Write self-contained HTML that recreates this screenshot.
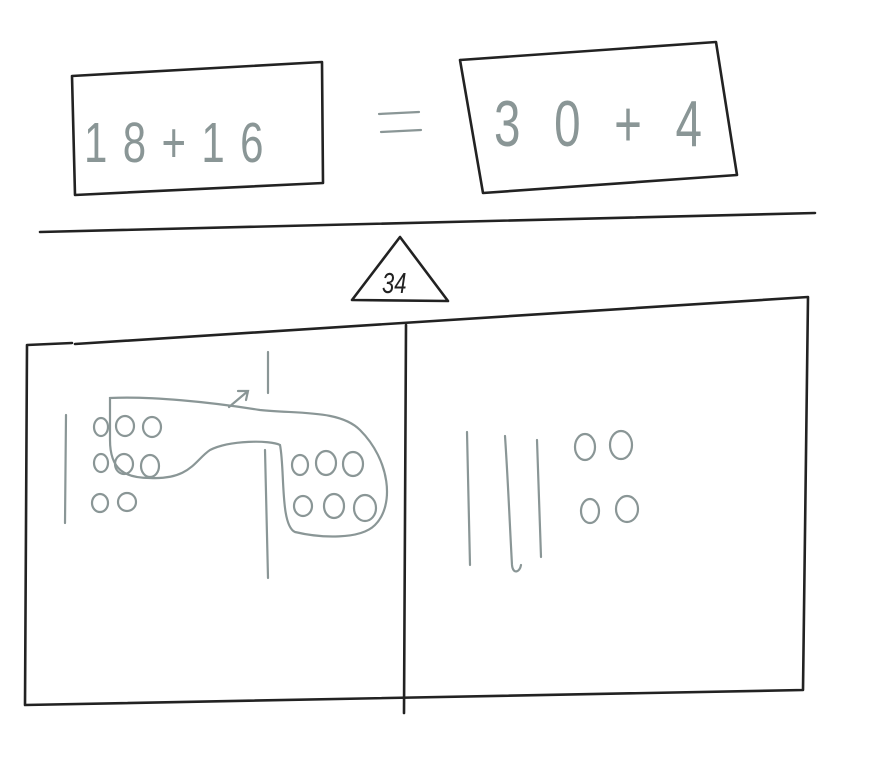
<!DOCTYPE html>
<html><head><meta charset="utf-8"><style>html,body{margin:0;padding:0;background:#fff;width:874px;height:766px;overflow:hidden}</style></head>
<body>
<svg width="874" height="766" viewBox="0 0 874 766" xmlns="http://www.w3.org/2000/svg">
<g fill="none" stroke="#222" stroke-width="2.6" stroke-linecap="round" stroke-linejoin="round">
<path d="M72,76 L322,62 L323,183 L75,195 L72,76"/>
<path d="M460,60 L716,42 L737,175 L483,193 L460,60"/>
<path d="M40,232 L815,213"/>
<path d="M400,237 L352,300 L448,301 Z"/>
<path d="M27,345 L72,343 M75,344 L808,297 L803,690 L25,705 L27,345"/>
<path d="M406,325 L404,713"/>
</g>
<g fill="none" stroke="#8a9696" stroke-width="2.2" stroke-linecap="round">
<path d="M379,114 L419,112 M381,132 L421,130"/>
<path d="M66,415 L65,523"/>
<path d="M268,352 L268,393"/>
<path d="M229,407 L248,391 M238,391 L248,391 L246,400"/>
<path d="M265,450 L268,578"/>
<path d="M110,398 C150,396 210,402 260,410 C300,414 340,410 360,430 C390,460 395,505 375,525 C360,540 320,538 295,532 C280,525 285,470 280,445 C270,440 230,440 210,450 C195,460 190,480 150,478 C125,478 110,470 110,440 Z"/>
<ellipse cx="101" cy="427" rx="7" ry="9"/><ellipse cx="125" cy="426" rx="9" ry="10"/><ellipse cx="152" cy="427" rx="9" ry="10"/>
<ellipse cx="101" cy="463" rx="7" ry="9"/><ellipse cx="124" cy="464" rx="9" ry="10"/><ellipse cx="150" cy="466" rx="9" ry="11"/>
<ellipse cx="100" cy="503" rx="8" ry="9"/><ellipse cx="127" cy="502" rx="9" ry="9"/>
<ellipse cx="300" cy="465" rx="8" ry="10"/><ellipse cx="326" cy="463" rx="10" ry="12"/><ellipse cx="353" cy="464" rx="10" ry="12"/>
<ellipse cx="303" cy="506" rx="9" ry="10"/><ellipse cx="334" cy="506" rx="10" ry="12"/><ellipse cx="365" cy="508" rx="11" ry="13"/>
<path d="M467,432 L470,565"/>
<path d="M505,436 C508,480 510,530 512,565 C513,575 520,572 521,565"/>
<path d="M537,440 L541,557"/>
<ellipse cx="585" cy="447" rx="10" ry="13"/><ellipse cx="621" cy="445" rx="11" ry="14"/>
<ellipse cx="590" cy="511" rx="9" ry="12"/><ellipse cx="627" cy="509" rx="11" ry="13"/>
</g>
<g fill="#8a9696" font-family="Liberation Sans, sans-serif">
<text transform="translate(84,162) scale(1.4,1.9)" font-size="30" letter-spacing="11">18+16</text>
<text transform="translate(494,146) scale(1.4,1.9)" font-size="34" letter-spacing="24">30+4</text>
</g>
<text transform="translate(382,293) scale(1,1.3)" font-size="22" font-family="Liberation Sans, sans-serif" font-style="italic" fill="#222">34</text>
</svg>
</body></html>
